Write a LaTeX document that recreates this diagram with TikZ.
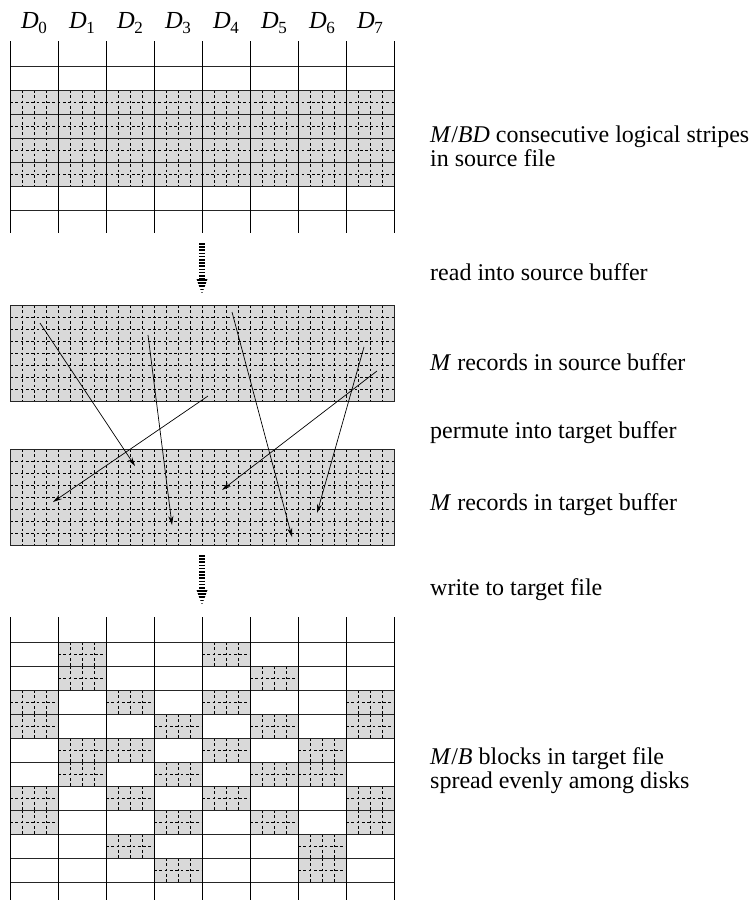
\documentclass[tikz,border=0pt]{standalone}
\usepackage{fontspec}
\setmainfont{Liberation Serif}
\usetikzlibrary{arrows.meta}
\definecolor{cellgray}{RGB}{217,217,217}
\newcommand{\Dlab}[1]{\textit{D}\kern-0.5pt\raisebox{-5pt}{\fontsize{17}{17}\selectfont #1}}
\tikzset{
  gridline/.style={line width=1pt, black!85},
  edgeline/.style={line width=1pt, black},
  dotline/.style={line width=0.8pt, dash pattern=on 2.7pt off 2.6pt, black},
  perm/.style={line width=0.7pt, -{Stealth[length=9pt,width=5pt]}},
  lbl/.style={anchor=west, inner sep=0pt, font=\fontsize{24}{24}\selectfont, align=left},
  disk/.style={anchor=base, inner sep=0pt, font=\fontsize{24.5}{24}\selectfont},
  stripes/.style={dash pattern=on 1.6pt off 1.6pt, black},
}
\begin{document}
\begin{tikzpicture}[x=1pt,y=-1pt]
\useasboundingbox (0,0) rectangle (751,903);

% ---------- disk labels ----------
\foreach \k in {0,...,7}
  \node[disk] (d\k) at (34+48*\k, 28) {\Dlab{\k}};

% ---------- source file (top grid) ----------
\fill[cellgray] (10,90) rectangle (394,186);
\foreach \i in {1,...,31}
  \draw[dotline] (10+12*\i,90) -- (10+12*\i,186);
\foreach \j in {0,...,3}
  \draw[dotline] (10,102+24*\j) -- (394,102+24*\j);
\foreach \j in {0,...,6}
  \draw[gridline] (10,66+24*\j) -- (394,66+24*\j);
\foreach \k in {0,...,8}
  \draw[edgeline] (10+48*\k,41) -- (10+48*\k,233);

% ---------- read arrow ----------
\coordinate (r1) at (202,243);
\coordinate (r2) at (202,279);
\coordinate (r3) at (202,294);
\draw[stripes, line width=6.5pt] (r1) -- (r2);
\begin{scope}
  \clip (196.5,279) -- (207.5,279) -- (r3) -- cycle;
  \draw[stripes, line width=12pt] (r2) -- (r3);
\end{scope}

% ---------- source buffer ----------
\fill[cellgray] (10,305) rectangle (394,401);
\foreach \i in {1,...,31}
  \draw[dotline] (10+12*\i,305) -- (10+12*\i,401);
\foreach \j in {1,...,7}
  \draw[dotline] (10,305+12*\j) -- (394,305+12*\j);
\draw[gridline] (10,305) rectangle (394,401);

% ---------- target buffer ----------
\fill[cellgray] (10,449) rectangle (394,545);
\foreach \i in {1,...,31}
  \draw[dotline] (10+12*\i,449) -- (10+12*\i,545);
\foreach \j in {1,...,7}
  \draw[dotline] (10,449+12*\j) -- (394,449+12*\j);
\draw[gridline] (10,449) rectangle (394,545);

% ---------- permutation arrows ----------
\coordinate (s1) at (40,323);   \coordinate (e1) at (135,466);
\coordinate (s2) at (148,335);  \coordinate (e2) at (172,525);
\coordinate (s3) at (208,396);  \coordinate (e3) at (53,502);
\coordinate (s4) at (232,312);  \coordinate (e4) at (292,537);
\coordinate (s5) at (377,371);  \coordinate (e5) at (222,490);
\coordinate (s6) at (364,347);  \coordinate (e6) at (317,513);
\foreach \n in {1,...,6}
  \draw[perm] (s\n) -- (e\n);

% ---------- write arrow ----------
\coordinate (w1) at (202,555);
\coordinate (w2) at (202,590);
\coordinate (w3) at (202,605);
\draw[stripes, line width=6.5pt] (w1) -- (w2);
\begin{scope}
  \clip (196.5,590) -- (207.5,590) -- (w3) -- cycle;
  \draw[stripes, line width=12pt] (w2) -- (w3);
\end{scope}

% ---------- target file (bottom grid) ----------
\foreach \r/\c in {0/1,0/4,1/1,1/5,2/0,2/2,2/4,2/7,3/0,3/3,3/5,3/7,
                   4/1,4/2,4/4,4/6,5/1,5/3,5/5,5/6,6/0,6/2,6/4,6/7,
                   7/0,7/3,7/5,7/7,8/2,8/6,9/3,9/6}{
  \fill[cellgray] (10+48*\c,642+24*\r) rectangle ++(48,24);
  \foreach \q in {12,24,36}
    \draw[dotline] (10+48*\c+\q,642+24*\r) -- ++(0,24);
  \draw[dotline] (10+48*\c,654+24*\r) -- ++(48,0);
}
\foreach \j in {0,...,10}
  \draw[gridline] (10,642+24*\j) -- (394,642+24*\j);
\foreach \k in {0,...,8}
  \draw[edgeline] (10+48*\k,617) -- (10+48*\k,900);

% ---------- labels ----------
\node[lbl] (t1) at (430,146) {\textit{M}/\textit{BD} consecutive logical stripes\\in source file};
\node[lbl] (t2) at (430,272) {read into source buffer};
\node[lbl] (t3) at (430,362) {\textit{M} records in source buffer};
\node[lbl] (t4) at (430,433) {permute into target buffer};
\node[lbl] (t5) at (430,505) {\textit{M} records in target buffer};
\node[lbl] (t6) at (430,590) {write to target file};
\node[lbl] (t7) at (430,771) {\textit{M}/\textit{B} blocks in target file\\spread evenly among disks};
\end{tikzpicture}
\end{document}
